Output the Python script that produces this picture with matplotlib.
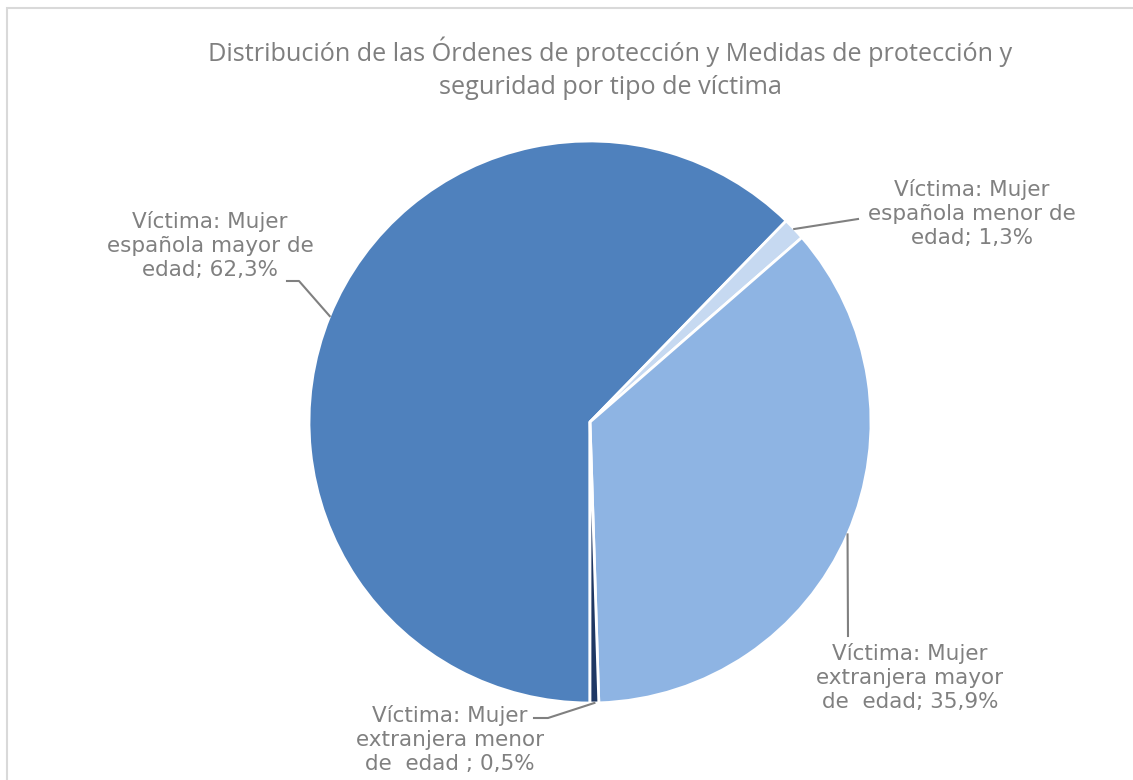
import numpy as np
import matplotlib.pyplot as plt
from matplotlib.patches import Rectangle

# datos (porcentajes por tipo de víctima)
labels = ["Víctima: Mujer\nespañola mayor de\nedad; 62,3%",
          "Víctima: Mujer\nespañola menor de\nedad; 1,3%",
          "Víctima: Mujer\nextranjera mayor\nde  edad; 35,9%",
          "Víctima: Mujer\nextranjera menor\nde  edad ; 0,5%"]
values = [62.3, 1.3, 35.9, 0.5]
colors = ["#4F81BD", "#C6D9F1", "#8EB4E3", "#1F3864"]
title = "Distribución de las Órdenes de protección y Medidas de protección y\nseguridad por tipo de víctima"

W, H = 1133, 780
gray = "#808080"

fig = plt.figure(figsize=(W / 100, H / 100), dpi=100)
ax = fig.add_axes([0, 0, 1, 1])

# marco del gráfico
ax.add_patch(Rectangle((7, -20), W + 20, H - 8 + 20, fill=False,
                       edgecolor="#D9D9D9", linewidth=1.5))

cx, cy, r = 590, H - 422, 281
wedges, _ = ax.pie(values, colors=colors, startangle=-90, counterclock=False,
                   center=(cx, cy), radius=r, frame=True,
                   wedgeprops=dict(edgecolor="white", linewidth=2))
ax.set_xlim(0, W)
ax.set_ylim(0, H)
ax.set_aspect("equal")
ax.axis("off")

ax.text(610, H - 68, title, ha="center", va="center", fontsize=18.2,
        color="#7F7F7F", family="Open Sans", linespacing=1.4)

# posiciones de etiquetas (px desde arriba) y codos de las líneas guía
label_pos = [(210, 245), (972, 213), (910, 677), (450, 740)]
elbows = [[(287, 281), (299, 281)],
          [(858, 219)],
          [(848, 636)],
          [(534, 718), (548, 718)]]

for i, w in enumerate(wedges):
    ang = np.deg2rad((w.theta1 + w.theta2) / 2)
    px, py = cx + r * np.cos(ang), cy + r * np.sin(ang)
    pts = [(x, H - y) for x, y in elbows[i]] + [(px, py)]
    xs, ys = zip(*pts)
    ax.plot(xs, ys, color=gray, linewidth=1.5)
    lx, ly = label_pos[i]
    ax.text(lx, H - ly, labels[i], ha="center", va="center", fontsize=15.5,
            color=gray, family="DejaVu Sans", linespacing=1.25)

fig.savefig("out.png", dpi=100, facecolor="white")
